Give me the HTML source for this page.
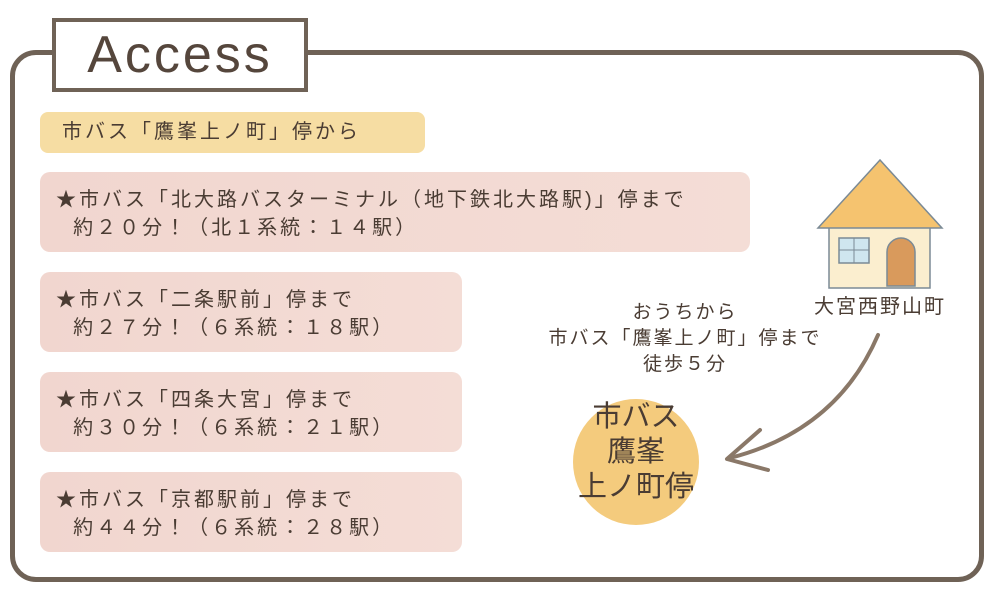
<!DOCTYPE html>
<html><head><meta charset="utf-8"><style>
body{margin:0;width:1000px;height:602px;background:#fff;position:relative;overflow:hidden;font-family:"Liberation Sans","Noto Sans CJK JP",sans-serif;color:#4a3c33}
.frame{position:absolute;left:10px;top:50px;width:964px;height:522px;border:5px solid #6f6256;border-radius:26px}
.title{position:absolute;left:52px;top:18px;width:248px;height:66px;border:4px solid #6f6256;background:#fff;font-size:52px;line-height:66px;text-align:center;color:#55463c;letter-spacing:3px}
.y{position:absolute;left:40px;top:112px;width:385px;height:41px;background:#f6dda3;border-radius:8px;font-size:20px;line-height:41px;padding-left:22px;box-sizing:border-box;letter-spacing:3px}
.p{position:absolute;left:40px;background:linear-gradient(90deg,#f1d6cf,#f4ddd6);border-radius:10px;font-size:20px;line-height:28px;padding:14px 0 0 16px;box-sizing:border-box;height:80px;width:422px;letter-spacing:3px;white-space:nowrap}
.t{position:absolute;font-size:19px;text-align:center;white-space:nowrap;letter-spacing:2px}
</style></head><body>
<div class="frame"></div>
<div class="title">Access</div>
<div class="y">市バス「鷹峯上ノ町」停から</div>
<div class="p" style="top:172px;width:710px">★市バス「北大路バスターミナル（地下鉄北大路駅)」停まで<br>&nbsp;&nbsp;約２０分！（北１系統：１４駅）</div>
<div class="p" style="top:272px">★市バス「二条駅前」停まで<br>&nbsp;&nbsp;約２７分！（６系統：１８駅）</div>
<div class="p" style="top:372px">★市バス「四条大宮」停まで<br>&nbsp;&nbsp;約３０分！（６系統：２１駅）</div>
<div class="p" style="top:472px">★市バス「京都駅前」停まで<br>&nbsp;&nbsp;約４４分！（６系統：２８駅）</div>
<svg style="position:absolute;left:0;top:0" width="1000" height="602">
<rect x="829" y="222" width="101" height="66" fill="#fbeecf" stroke="#7b8a95" stroke-width="1.5"/>
<polygon points="880,160 818,228 942,228" fill="#f5c36f" stroke="#7b8a95" stroke-width="1.5"/>
<rect x="839" y="238" width="30" height="25" fill="#cfe6ef" stroke="#7b8a95" stroke-width="1.5"/>
<line x1="854" y1="238" x2="854" y2="263" stroke="#7b8a95"/><line x1="839" y1="250" x2="869" y2="250" stroke="#7b8a95"/>
<path d="M887,286 V252 a14,14 0 0 1 28,0 V286 Z" fill="#d99a5c" stroke="#7b8a95" stroke-width="1.5"/>
<circle cx="636" cy="462" r="63" fill="#f4cb7d"/>
<path d="M878,335 C850,400 800,440 730,458" fill="none" stroke="#8a7868" stroke-width="4" stroke-linecap="round"/>
<path d="M760,430 L727,459 L768,470" fill="none" stroke="#8a7868" stroke-width="4" stroke-linecap="round" stroke-linejoin="round"/>
</svg>
<div class="t" style="left:805px;top:290px;width:150px;font-size:20px">大宮西野山町</div>
<div class="t" style="left:520px;top:300px;width:330px;line-height:26px">おうちから<br>市バス「鷹峯上ノ町」停まで<br>徒歩５分</div>
<div class="t" style="left:561px;top:400px;width:150px;font-size:29px;line-height:35px;color:#4a3c33;letter-spacing:0">市バス<br>鷹峯<br>上ノ町停</div>
</body></html>
